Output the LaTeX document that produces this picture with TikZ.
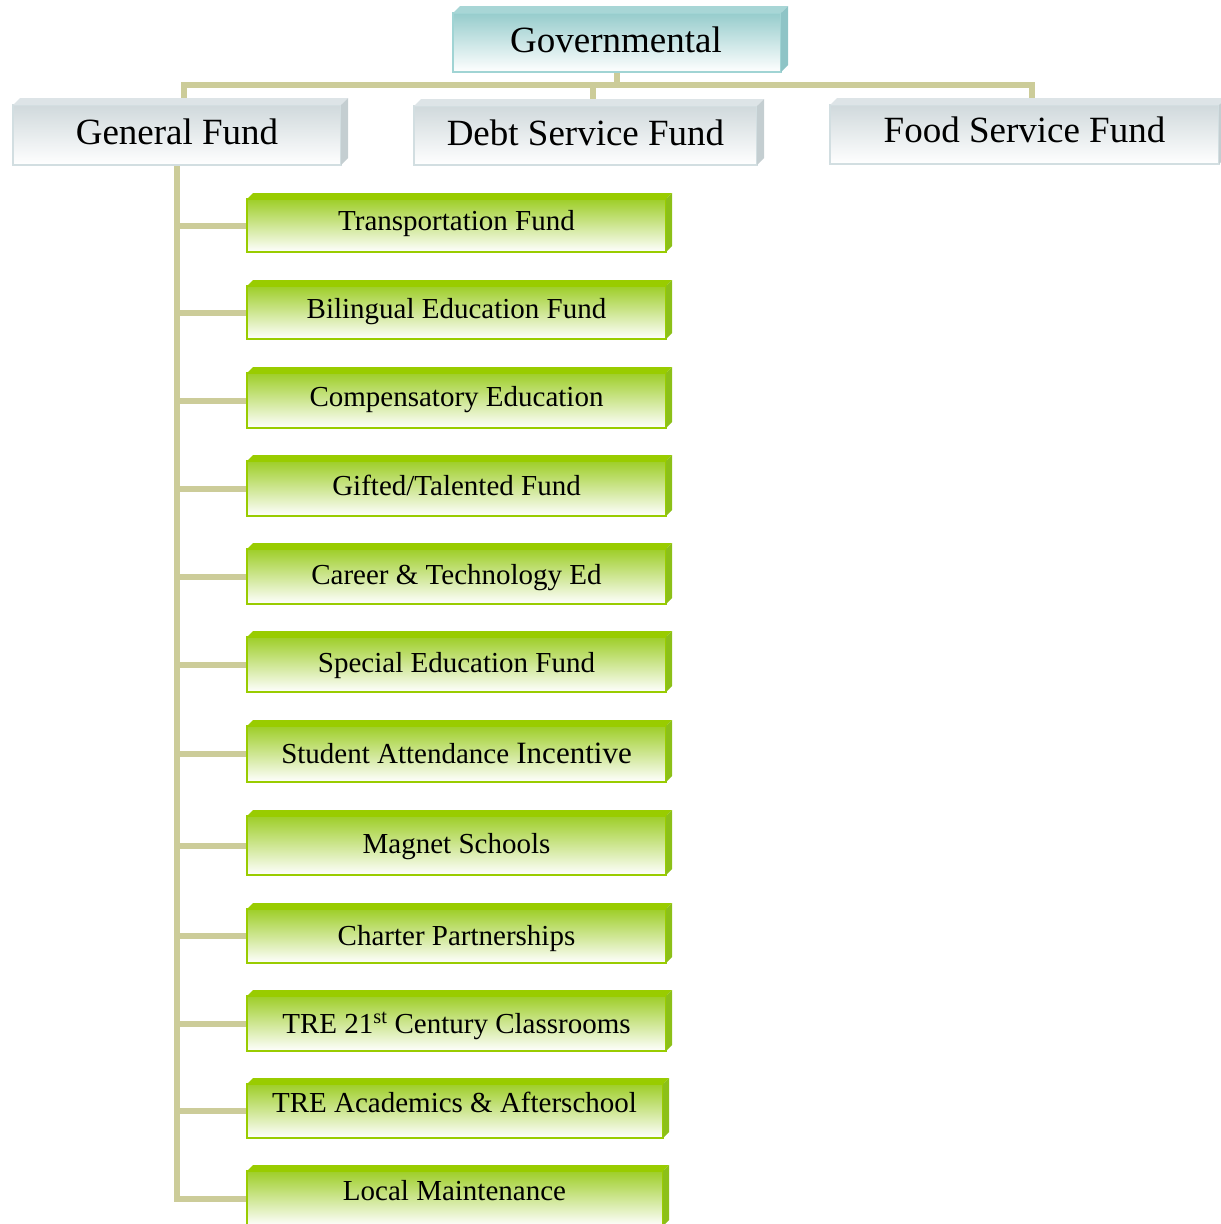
\documentclass[tikz,border=0pt]{standalone}
\usepackage{fontspec}
\setmainfont{Liberation Serif}
\pgfdeclarelayer{bg}
\pgfsetlayers{bg,main}
\definecolor{conncol}{RGB}{204,204,153}
\definecolor{gborder}{RGB}{153,204,0}
\definecolor{gtopc}{RGB}{158,206,40}
\definecolor{gmidc}{RGB}{212,236,165}
\definecolor{gbev}{RGB}{153,204,0}
\definecolor{gsidec}{RGB}{140,192,24}
\definecolor{sborder}{RGB}{210,222,225}
\definecolor{stopc}{RGB}{208,217,220}
\definecolor{sbev}{RGB}{221,228,231}
\definecolor{ssidec}{RGB}{196,206,209}
\definecolor{tborder}{RGB}{160,212,212}
\definecolor{ttopc}{RGB}{150,204,204}
\definecolor{tbev}{RGB}{168,214,214}
\definecolor{tsidec}{RGB}{142,196,198}
\newcommand\mkbox[7]{%
  \node[#6face, minimum width={#4-#2}, minimum height={#5-#3}] (#1) at (#2,#3) {};
  \fill[#6bevel] (#1.north west) -- ++(#7,-#7) -- ([shift={(#7,-#7)}]#1.north east) -- (#1.north east) -- cycle;
  \fill[#6side] (#1.north east) -- ++(#7,-#7) -- ([shift={(#7,-#7)}]#1.south east) -- (#1.south east) -- cycle;
}
\begin{document}
\begin{tikzpicture}[x=1pt,y=-1pt,
  conn/.style={draw=conncol, line width=6pt},
  basebox/.style={draw, line width=1.3pt, inner sep=0pt, outer sep=0pt, anchor=north west, rectangle},
  gface/.style={basebox, draw=gborder, top color=gtopc, middle color=gmidc, bottom color=white},
  gbevel/.style={fill=gbev},
  gside/.style={fill=gsidec},
  sface/.style={basebox, draw=sborder, top color=stopc, bottom color=white},
  sbevel/.style={fill=sbev},
  sside/.style={fill=ssidec},
  tface/.style={basebox, draw=tborder, top color=ttopc, bottom color=white},
  tbevel/.style={fill=tbev},
  tside/.style={fill=tsidec},
  bigtext/.style={anchor=base, inner sep=0pt, font=\fontsize{37}{40}\selectfont},
  smalltext/.style={anchor=base, inner sep=0pt, font=\fontsize{29}{32}\selectfont}]
\useasboundingbox (0,0) rectangle (1221,1224);

% top level boxes
\mkbox{gov}{453}{13}{781}{72}{t}{7}
\mkbox{gen}{13}{105}{341}{165}{s}{7}
\mkbox{debt}{414}{106}{757}{165}{s}{7}
\mkbox{food}{830}{105}{1219}{164}{s}{7}

\node[bigtext] (govt) at (616,52) {Governmental};
\node[bigtext] (gent) at (177,144) {General Fund};
\node[bigtext] (debtt) at (585.5,145) {Debt Service Fund};
\node[bigtext] (foodt) at (1024.5,142) {Food Service Fund};

% child boxes
\mkbox{c1}{247}{199}{666}{252}{g}{6}
\mkbox{c2}{247}{286}{666}{339}{g}{6}
\mkbox{c3}{247}{373}{666}{428}{g}{6}
\mkbox{c4}{247}{461}{666}{516}{g}{6}
\mkbox{c5}{247}{549}{666}{604}{g}{6}
\mkbox{c6}{247}{637}{666}{692}{g}{6}
\mkbox{c7}{247}{726}{666}{782}{g}{6}
\mkbox{c8}{247}{816}{666}{875}{g}{6}
\mkbox{c9}{247}{909}{666}{963}{g}{6}
\mkbox{c10}{247}{996}{666}{1051}{g}{6}
\mkbox{c11}{247}{1084}{663}{1138}{g}{6}
\mkbox{c12}{247}{1171}{663}{1226}{g}{6}

\node[smalltext] (t1) at (456.5,230) {Transportation Fund};
\node[smalltext] (t2) at (456.5,318) {Bilingual Education Fund};
\node[smalltext] (t3) at (456.5,406) {Compensatory Education};
\node[smalltext] (t4) at (456.5,495) {Gifted/Talented Fund};
\node[smalltext] (t5) at (456.5,584) {Career \& Technology Ed};
\node[smalltext] (t6) at (456.5,672) {Special Education Fund};
\node[smalltext] (t7) at (456.5,763) {Student Attendance {\fontsize{31}{34}\selectfont Incentive}};
\node[smalltext] (t8) at (456.5,853) {Magnet Schools};
\node[smalltext] (t9) at (456.5,945) {Charter Partnerships};
\node[smalltext] (t10) at (456.5,1033) {TRE 21\textsuperscript{st} Century Classrooms};
\node[smalltext] (t11) at (454.5,1112) {TRE Academics \& Afterschool};
\node[smalltext] (t12) at (454.5,1200) {Local Maintenance};

\coordinate (bus) at (617,85);

\begin{pgfonlayer}{bg}
  \draw[conn] (gov.south) -- (gov.south |- bus);
  \draw[conn] ([xshift=7pt]gen.north) -- ([xshift=7pt]gen.north |- bus)
     -- ([xshift=7pt]food.north |- bus) -- ([xshift=7pt]food.north);
  \draw[conn] ([xshift=7pt]debt.north) -- ([xshift=7pt]debt.north |- bus);
  \draw[conn] (gen.south) -- (gen.south |- c12.west) -- (c12.west);
  \foreach \i in {1,...,11} {
    \draw[conn] (c\i.west -| gen.south) -- (c\i.west);
  }
\end{pgfonlayer}
\end{tikzpicture}
\end{document}
